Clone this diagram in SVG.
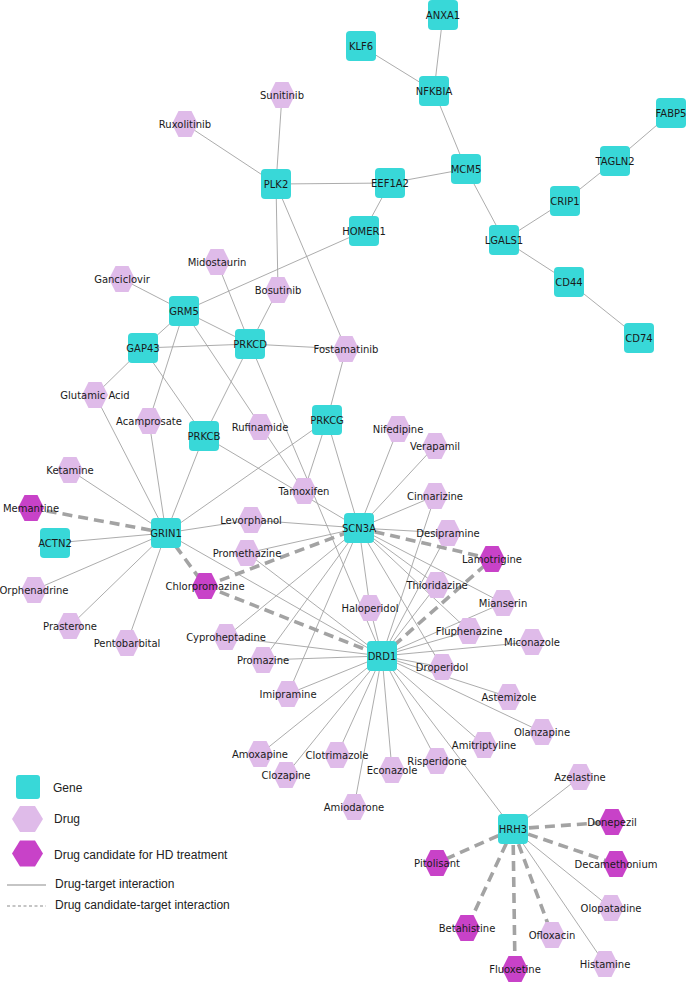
<svg xmlns="http://www.w3.org/2000/svg" xmlns:xlink="http://www.w3.org/1999/xlink" width="686" height="983" viewBox="0 0 686 983">
<style>
.e{stroke:#a3a3a3;stroke-width:0.9;fill:none}
.d{stroke:#a3a3a3;stroke-width:3.6;fill:none;stroke-dasharray:10 6}
.gene{fill:#38d8d8}
.drug{fill:#dfbbe9}
.cand{fill:#c842c8}
.lbl{font-family:"DejaVu Sans",sans-serif;font-size:10px;fill:#1a1a1a;text-anchor:middle}
.leg{font-family:"Liberation Sans",Arial,sans-serif;font-size:12px;fill:#222}
</style>
<defs>
<rect id="g" x="-15" y="-15" width="30" height="30" rx="4" ry="4"/>
<polygon id="h" points="-13,0 -6.5,-13 6.5,-13 13,0 6.5,13 -6.5,13"/>
</defs>
<rect width="686" height="983" fill="#ffffff"/>
<g id="connectors">
<line class="e" x1="361" y1="46" x2="434" y2="91"/>
<line class="e" x1="443" y1="15" x2="434" y2="91"/>
<line class="e" x1="434" y1="91" x2="466" y2="169"/>
<line class="e" x1="466" y1="169" x2="390" y2="183"/>
<line class="e" x1="466" y1="169" x2="504" y2="240"/>
<line class="e" x1="504" y1="240" x2="565" y2="201"/>
<line class="e" x1="565" y1="201" x2="615" y2="161"/>
<line class="e" x1="615" y1="161" x2="671" y2="113"/>
<line class="e" x1="504" y1="240" x2="569" y2="282"/>
<line class="e" x1="569" y1="282" x2="639" y2="338"/>
<line class="e" x1="390" y1="183" x2="276" y2="184"/>
<line class="e" x1="390" y1="183" x2="364" y2="231"/>
<line class="e" x1="276" y1="184" x2="282" y2="95"/>
<line class="e" x1="276" y1="184" x2="185" y2="124"/>
<line class="e" x1="276" y1="184" x2="278" y2="290"/>
<line class="e" x1="276" y1="184" x2="346" y2="349"/>
<line class="e" x1="364" y1="231" x2="184" y2="311"/>
<line class="e" x1="278" y1="290" x2="250" y2="344"/>
<line class="e" x1="217" y1="262" x2="250" y2="344"/>
<line class="e" x1="143" y1="348" x2="250" y2="344"/>
<line class="e" x1="250" y1="344" x2="346" y2="349"/>
<line class="e" x1="184" y1="311" x2="122" y2="279"/>
<line class="e" x1="184" y1="311" x2="143" y2="348"/>
<line class="e" x1="184" y1="311" x2="250" y2="344"/>
<line class="e" x1="184" y1="311" x2="149" y2="421"/>
<line class="e" x1="184" y1="311" x2="304" y2="491"/>
<line class="e" x1="143" y1="348" x2="95" y2="395"/>
<line class="e" x1="143" y1="348" x2="204" y2="436"/>
<line class="e" x1="250" y1="344" x2="204" y2="436"/>
<line class="e" x1="250" y1="344" x2="382" y2="656"/>
<line class="e" x1="346" y1="349" x2="327" y2="420"/>
<line class="e" x1="327" y1="420" x2="304" y2="491"/>
<line class="e" x1="327" y1="420" x2="359" y2="528"/>
<line class="e" x1="327" y1="420" x2="166" y2="533"/>
<line class="e" x1="204" y1="436" x2="166" y2="533"/>
<line class="e" x1="204" y1="436" x2="359" y2="528"/>
<line class="e" x1="166" y1="533" x2="70" y2="470"/>
<line class="e" x1="166" y1="533" x2="95" y2="395"/>
<line class="e" x1="166" y1="533" x2="149" y2="421"/>
<line class="e" x1="166" y1="533" x2="55" y2="543"/>
<line class="e" x1="166" y1="533" x2="34" y2="590"/>
<line class="e" x1="166" y1="533" x2="70" y2="626"/>
<line class="e" x1="166" y1="533" x2="127" y2="643"/>
<line class="e" x1="166" y1="533" x2="251" y2="520"/>
<line class="e" x1="166" y1="533" x2="382" y2="656"/>
<line class="e" x1="251" y1="520" x2="359" y2="528"/>
<line class="e" x1="359" y1="528" x2="398" y2="429"/>
<line class="e" x1="359" y1="528" x2="435" y2="446"/>
<line class="e" x1="359" y1="528" x2="435" y2="496"/>
<line class="e" x1="359" y1="528" x2="448" y2="533"/>
<line class="e" x1="359" y1="528" x2="247" y2="553"/>
<line class="e" x1="359" y1="528" x2="226" y2="637"/>
<line class="e" x1="359" y1="528" x2="263" y2="660"/>
<line class="e" x1="359" y1="528" x2="288" y2="694"/>
<line class="e" x1="359" y1="528" x2="370" y2="608"/>
<line class="e" x1="359" y1="528" x2="437" y2="585"/>
<line class="e" x1="359" y1="528" x2="503" y2="603"/>
<line class="e" x1="359" y1="528" x2="469" y2="631"/>
<line class="e" x1="359" y1="528" x2="442" y2="667"/>
<line class="e" x1="382" y1="656" x2="247" y2="553"/>
<line class="e" x1="382" y1="656" x2="226" y2="637"/>
<line class="e" x1="382" y1="656" x2="263" y2="660"/>
<line class="e" x1="382" y1="656" x2="288" y2="694"/>
<line class="e" x1="382" y1="656" x2="370" y2="608"/>
<line class="e" x1="382" y1="656" x2="437" y2="585"/>
<line class="e" x1="382" y1="656" x2="448" y2="533"/>
<line class="e" x1="382" y1="656" x2="435" y2="496"/>
<line class="e" x1="382" y1="656" x2="469" y2="631"/>
<line class="e" x1="382" y1="656" x2="503" y2="603"/>
<line class="e" x1="382" y1="656" x2="532" y2="642"/>
<line class="e" x1="382" y1="656" x2="442" y2="667"/>
<line class="e" x1="382" y1="656" x2="509" y2="697"/>
<line class="e" x1="382" y1="656" x2="542" y2="732"/>
<line class="e" x1="382" y1="656" x2="484" y2="745"/>
<line class="e" x1="382" y1="656" x2="437" y2="761"/>
<line class="e" x1="382" y1="656" x2="392" y2="770"/>
<line class="e" x1="382" y1="656" x2="354" y2="807"/>
<line class="e" x1="382" y1="656" x2="337" y2="755"/>
<line class="e" x1="382" y1="656" x2="286" y2="775"/>
<line class="e" x1="382" y1="656" x2="260" y2="754"/>
<line class="e" x1="382" y1="656" x2="513" y2="829"/>
<line class="e" x1="513" y1="829" x2="580" y2="777"/>
<line class="e" x1="513" y1="829" x2="611" y2="908"/>
<line class="e" x1="513" y1="829" x2="605" y2="964"/>
<line class="d" x1="31" y1="508" x2="166" y2="533"/>
<line class="d" x1="166" y1="533" x2="205" y2="586"/>
<line class="d" x1="205" y1="586" x2="359" y2="528"/>
<line class="d" x1="205" y1="586" x2="382" y2="656"/>
<line class="d" x1="359" y1="528" x2="492" y2="559"/>
<line class="d" x1="382" y1="656" x2="492" y2="559"/>
<line class="d" x1="513" y1="829" x2="612" y2="822"/>
<line class="d" x1="513" y1="829" x2="616" y2="864"/>
<line class="d" x1="513" y1="829" x2="437" y2="863"/>
<line class="d" x1="513" y1="829" x2="467" y2="928"/>
<line class="d" x1="513" y1="829" x2="515" y2="969"/>
<line class="d" x1="513" y1="829" x2="552" y2="935"/>
</g>
<g id="nodes">
<g id="ANXA1" transform="translate(443,15)"><use xlink:href="#g" class="gene"/><text class="lbl" y="3.5">ANXA1</text></g>
<g id="KLF6" transform="translate(361,46)"><use xlink:href="#g" class="gene"/><text class="lbl" y="3.5">KLF6</text></g>
<g id="NFKBIA" transform="translate(434,91)"><use xlink:href="#g" class="gene"/><text class="lbl" y="3.5">NFKBIA</text></g>
<g id="PLK2" transform="translate(276,184)"><use xlink:href="#g" class="gene"/><text class="lbl" y="3.5">PLK2</text></g>
<g id="EEF1A2" transform="translate(390,183)"><use xlink:href="#g" class="gene"/><text class="lbl" y="3.5">EEF1A2</text></g>
<g id="MCM5" transform="translate(466,169)"><use xlink:href="#g" class="gene"/><text class="lbl" y="3.5">MCM5</text></g>
<g id="FABP5" transform="translate(671,113)"><use xlink:href="#g" class="gene"/><text class="lbl" y="3.5">FABP5</text></g>
<g id="TAGLN2" transform="translate(615,161)"><use xlink:href="#g" class="gene"/><text class="lbl" y="3.5">TAGLN2</text></g>
<g id="CRIP1" transform="translate(565,201)"><use xlink:href="#g" class="gene"/><text class="lbl" y="3.5">CRIP1</text></g>
<g id="LGALS1" transform="translate(504,240)"><use xlink:href="#g" class="gene"/><text class="lbl" y="3.5">LGALS1</text></g>
<g id="CD44" transform="translate(569,282)"><use xlink:href="#g" class="gene"/><text class="lbl" y="3.5">CD44</text></g>
<g id="CD74" transform="translate(639,338)"><use xlink:href="#g" class="gene"/><text class="lbl" y="3.5">CD74</text></g>
<g id="HOMER1" transform="translate(364,231)"><use xlink:href="#g" class="gene"/><text class="lbl" y="3.5">HOMER1</text></g>
<g id="GRM5" transform="translate(184,311)"><use xlink:href="#g" class="gene"/><text class="lbl" y="3.5">GRM5</text></g>
<g id="GAP43" transform="translate(143,348)"><use xlink:href="#g" class="gene"/><text class="lbl" y="3.5">GAP43</text></g>
<g id="PRKCD" transform="translate(250,344)"><use xlink:href="#g" class="gene"/><text class="lbl" y="3.5">PRKCD</text></g>
<g id="PRKCB" transform="translate(204,436)"><use xlink:href="#g" class="gene"/><text class="lbl" y="3.5">PRKCB</text></g>
<g id="PRKCG" transform="translate(327,420)"><use xlink:href="#g" class="gene"/><text class="lbl" y="3.5">PRKCG</text></g>
<g id="GRIN1" transform="translate(166,533)"><use xlink:href="#g" class="gene"/><text class="lbl" y="3.5">GRIN1</text></g>
<g id="ACTN2" transform="translate(55,543)"><use xlink:href="#g" class="gene"/><text class="lbl" y="3.5">ACTN2</text></g>
<g id="SCN3A" transform="translate(359,528)"><use xlink:href="#g" class="gene"/><text class="lbl" y="3.5">SCN3A</text></g>
<g id="DRD1" transform="translate(382,656)"><use xlink:href="#g" class="gene"/><text class="lbl" y="3.5">DRD1</text></g>
<g id="HRH3" transform="translate(513,829)"><use xlink:href="#g" class="gene"/><text class="lbl" y="3.5">HRH3</text></g>

<g id="Ruxolitinib" transform="translate(185,124)"><use xlink:href="#h" class="drug"/><text class="lbl" y="3.5">Ruxolitinib</text></g>
<g id="Sunitinib" transform="translate(282,95)"><use xlink:href="#h" class="drug"/><text class="lbl" y="3.5">Sunitinib</text></g>
<g id="Midostaurin" transform="translate(217,262)"><use xlink:href="#h" class="drug"/><text class="lbl" y="3.5">Midostaurin</text></g>
<g id="Ganciclovir" transform="translate(122,279)"><use xlink:href="#h" class="drug"/><text class="lbl" y="3.5">Ganciclovir</text></g>
<g id="Bosutinib" transform="translate(278,290)"><use xlink:href="#h" class="drug"/><text class="lbl" y="3.5">Bosutinib</text></g>
<g id="Fostamatinib" transform="translate(346,349)"><use xlink:href="#h" class="drug"/><text class="lbl" y="3.5">Fostamatinib</text></g>
<g id="GlutamicAcid" transform="translate(95,395)"><use xlink:href="#h" class="drug"/><text class="lbl" y="3.5">Glutamic Acid</text></g>
<g id="Acamprosate" transform="translate(149,421)"><use xlink:href="#h" class="drug"/><text class="lbl" y="3.5">Acamprosate</text></g>
<g id="Rufinamide" transform="translate(260,427)"><use xlink:href="#h" class="drug"/><text class="lbl" y="3.5">Rufinamide</text></g>
<g id="Nifedipine" transform="translate(398,429)"><use xlink:href="#h" class="drug"/><text class="lbl" y="3.5">Nifedipine</text></g>
<g id="Verapamil" transform="translate(435,446)"><use xlink:href="#h" class="drug"/><text class="lbl" y="3.5">Verapamil</text></g>
<g id="Ketamine" transform="translate(70,470)"><use xlink:href="#h" class="drug"/><text class="lbl" y="3.5">Ketamine</text></g>
<g id="Tamoxifen" transform="translate(304,491)"><use xlink:href="#h" class="drug"/><text class="lbl" y="3.5">Tamoxifen</text></g>
<g id="Cinnarizine" transform="translate(435,496)"><use xlink:href="#h" class="drug"/><text class="lbl" y="3.5">Cinnarizine</text></g>
<g id="Levorphanol" transform="translate(251,520)"><use xlink:href="#h" class="drug"/><text class="lbl" y="3.5">Levorphanol</text></g>
<g id="Desipramine" transform="translate(448,533)"><use xlink:href="#h" class="drug"/><text class="lbl" y="3.5">Desipramine</text></g>
<g id="Promethazine" transform="translate(247,553)"><use xlink:href="#h" class="drug"/><text class="lbl" y="3.5">Promethazine</text></g>
<g id="Orphenadrine" transform="translate(34,590)"><use xlink:href="#h" class="drug"/><text class="lbl" y="3.5">Orphenadrine</text></g>
<g id="Thioridazine" transform="translate(437,585)"><use xlink:href="#h" class="drug"/><text class="lbl" y="3.5">Thioridazine</text></g>
<g id="Mianserin" transform="translate(503,603)"><use xlink:href="#h" class="drug"/><text class="lbl" y="3.5">Mianserin</text></g>
<g id="Haloperidol" transform="translate(370,608)"><use xlink:href="#h" class="drug"/><text class="lbl" y="3.5">Haloperidol</text></g>
<g id="Prasterone" transform="translate(70,626)"><use xlink:href="#h" class="drug"/><text class="lbl" y="3.5">Prasterone</text></g>
<g id="Fluphenazine" transform="translate(469,631)"><use xlink:href="#h" class="drug"/><text class="lbl" y="3.5">Fluphenazine</text></g>
<g id="Cyproheptadine" transform="translate(226,637)"><use xlink:href="#h" class="drug"/><text class="lbl" y="3.5">Cyproheptadine</text></g>
<g id="Miconazole" transform="translate(532,642)"><use xlink:href="#h" class="drug"/><text class="lbl" y="3.5">Miconazole</text></g>
<g id="Pentobarbital" transform="translate(127,643)"><use xlink:href="#h" class="drug"/><text class="lbl" y="3.5">Pentobarbital</text></g>
<g id="Promazine" transform="translate(263,660)"><use xlink:href="#h" class="drug"/><text class="lbl" y="3.5">Promazine</text></g>
<g id="Droperidol" transform="translate(442,667)"><use xlink:href="#h" class="drug"/><text class="lbl" y="3.5">Droperidol</text></g>
<g id="Imipramine" transform="translate(288,694)"><use xlink:href="#h" class="drug"/><text class="lbl" y="3.5">Imipramine</text></g>
<g id="Astemizole" transform="translate(509,697)"><use xlink:href="#h" class="drug"/><text class="lbl" y="3.5">Astemizole</text></g>
<g id="Olanzapine" transform="translate(542,732)"><use xlink:href="#h" class="drug"/><text class="lbl" y="3.5">Olanzapine</text></g>
<g id="Amitriptyline" transform="translate(484,745)"><use xlink:href="#h" class="drug"/><text class="lbl" y="3.5">Amitriptyline</text></g>
<g id="Amoxapine" transform="translate(260,754)"><use xlink:href="#h" class="drug"/><text class="lbl" y="3.5">Amoxapine</text></g>
<g id="Clotrimazole" transform="translate(337,755)"><use xlink:href="#h" class="drug"/><text class="lbl" y="3.5">Clotrimazole</text></g>
<g id="Risperidone" transform="translate(437,761)"><use xlink:href="#h" class="drug"/><text class="lbl" y="3.5">Risperidone</text></g>
<g id="Econazole" transform="translate(392,770)"><use xlink:href="#h" class="drug"/><text class="lbl" y="3.5">Econazole</text></g>
<g id="Clozapine" transform="translate(286,775)"><use xlink:href="#h" class="drug"/><text class="lbl" y="3.5">Clozapine</text></g>
<g id="Azelastine" transform="translate(580,777)"><use xlink:href="#h" class="drug"/><text class="lbl" y="3.5">Azelastine</text></g>
<g id="Amiodarone" transform="translate(354,807)"><use xlink:href="#h" class="drug"/><text class="lbl" y="3.5">Amiodarone</text></g>
<g id="Olopatadine" transform="translate(611,908)"><use xlink:href="#h" class="drug"/><text class="lbl" y="3.5">Olopatadine</text></g>
<g id="Ofloxacin" transform="translate(552,935)"><use xlink:href="#h" class="drug"/><text class="lbl" y="3.5">Ofloxacin</text></g>
<g id="Histamine" transform="translate(605,964)"><use xlink:href="#h" class="drug"/><text class="lbl" y="3.5">Histamine</text></g>

<g id="Memantine" transform="translate(31,508)"><use xlink:href="#h" class="cand"/><text class="lbl" y="3.5">Memantine</text></g>
<g id="Chlorpromazine" transform="translate(205,586)"><use xlink:href="#h" class="cand"/><text class="lbl" y="3.5">Chlorpromazine</text></g>
<g id="Lamotrigine" transform="translate(492,559)"><use xlink:href="#h" class="cand"/><text class="lbl" y="3.5">Lamotrigine</text></g>
<g id="Donepezil" transform="translate(612,822)"><use xlink:href="#h" class="cand"/><text class="lbl" y="3.5">Donepezil</text></g>
<g id="Decamethonium" transform="translate(616,864)"><use xlink:href="#h" class="cand"/><text class="lbl" y="3.5">Decamethonium</text></g>
<g id="Pitolisant" transform="translate(437,863)"><use xlink:href="#h" class="cand"/><text class="lbl" y="3.5">Pitolisant</text></g>
<g id="Betahistine" transform="translate(467,928)"><use xlink:href="#h" class="cand"/><text class="lbl" y="3.5">Betahistine</text></g>
<g id="Fluoxetine" transform="translate(515,969)"><use xlink:href="#h" class="cand"/><text class="lbl" y="3.5">Fluoxetine</text></g>
</g>
<g id="legend">
<rect x="16" y="775" width="24" height="24" rx="3" class="gene"/>
<polygon points="12,819 20,806 35,806 43,819 35,832 20,832" class="drug"/>
<polygon points="12,853.5 20,840.5 35,840.5 43,853.5 35,866.5 20,866.5" class="cand"/>
<line x1="7" y1="885" x2="46" y2="885" stroke="#8c8c8c" stroke-width="1.2"/>
<line x1="7" y1="906" x2="46" y2="906" stroke="#8c8c8c" stroke-width="1.2" stroke-dasharray="3 2.5"/>
<text class="leg" x="53" y="792">Gene</text>
<text class="leg" x="54" y="823">Drug</text>
<text class="leg" x="54" y="859">Drug candidate for HD treatment</text>
<text class="leg" x="55" y="888">Drug-target interaction</text>
<text class="leg" x="55" y="909">Drug candidate-target interaction</text>
</g>
</svg>
